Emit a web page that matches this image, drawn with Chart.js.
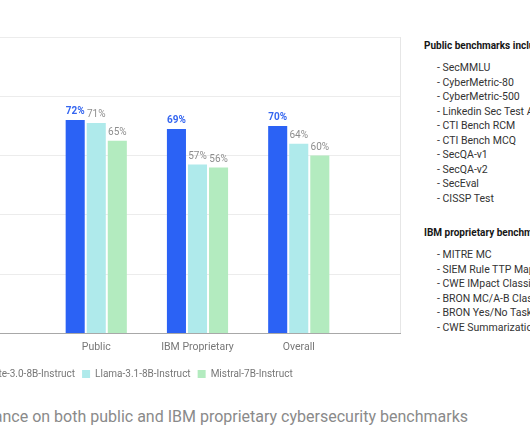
<!DOCTYPE html>
<html>
<head>
<meta charset="utf-8">
<script src="https://cdn.jsdelivr.net/npm/chart.js@4.4.1/dist/chart.umd.min.js"></script>
<style>
  html, body { margin: 0; padding: 0; width: 530px; height: 442px; overflow: hidden; background: #fff; font-family: Roboto, sans-serif; }
  #chartBox { position: absolute; left: -45px; top: 0; width: 453px; height: 389px; }
  #caption { position: absolute; right: 62px; top: 407px; font-size: 16px; color: #8a8a8a; white-space: nowrap; }
  .side { position: absolute; left: 424px; white-space: nowrap; font-size: 10px; color: #161616; }
  .side b { display: block; height: 22px; line-height: 14px; }
  .side ul { list-style: none; margin: 0; padding: 0 0 0 13px; line-height: 14.5px; font-size: 10.5px; color: #333; }
</style>
</head>
<body>
<div id="chartBox"><canvas id="benchChart"></canvas></div>
<div id="caption">Performance on both public and IBM proprietary cybersecurity benchmarks</div>
<div class="side" id="sidePublic" style="top:39px"></div>
<div class="side" id="sideIbm" style="top:226px"></div>
<script>
const categories = ['Public', 'IBM Proprietary', 'Overall'];
const seriesNames = ['Granite-3.0-8B-Instruct', 'Llama-3.1-8B-Instruct', 'Mistral-7B-Instruct'];
const graniteVals = [72, 69, 70];
const llamaVals = [71, 57, 64];
const mistralVals = [65, 56, 60];
const yTicks = [0, 20, 40, 60, 80, 100];
const publicBench = ['SecMMLU', 'CyberMetric-80', 'CyberMetric-500', 'Linkedin Sec Test Assessment', 'CTI Bench RCM',
    'CTI Bench MCQ', 'SecQA-v1', 'SecQA-v2', 'SecEval', 'CISSP Test'];
const ibmBench = ['MITRE MC', 'SIEM Rule TTP Mapping', 'CWE IMpact Classification', 'BRON MC/A-B Classification',
    'BRON Yes/No Tasks', 'CWE Summarization'];

function fillSide(id, title, items) {
    const el = document.getElementById(id);
    let html = '<b>' + title + '</b><ul>';
    items.forEach(t => { html += '<li>- ' + t + '</li>'; });
    el.innerHTML = html + '</ul>';
}
fillSide('sidePublic', 'Public benchmarks include:', publicBench);
fillSide('sideIbm', 'IBM proprietary benchmarks include:', ibmBench);

// empty slots on both ends keep the plot wider than the three groups
const pad = arr => [null, ...arr, null];
const labels = ['', ...categories, ''];

const valueLabels = {
    id: 'valueLabels',
    afterDatasetsDraw(chart) {
        const ctx = chart.ctx;
        chart.data.datasets.forEach((ds, i) => {
            chart.getDatasetMeta(i).data.forEach((bar, j) => {
                const v = ds.data[j];
                if (v == null) return;
                ctx.save();
                ctx.font = (i === 0 ? 'bold ' : '') + '10px Roboto';
                ctx.fillStyle = i === 0 ? '#3566f0' : '#8d8d8d';
                ctx.textAlign = 'center';
                ctx.textBaseline = 'bottom';
                ctx.fillText(v + '%', bar.x, bar.y - 3);
                ctx.restore();
            });
        });
    }
};

Chart.defaults.font.family = 'Roboto, sans-serif';

new Chart(document.getElementById('benchChart').getContext('2d'), {
    type: 'bar',
    data: {
        labels: labels,
        datasets: [
            { label: seriesNames[0], data: pad(graniteVals), backgroundColor: '#2b62f5' },
            { label: seriesNames[1], data: pad(llamaVals), backgroundColor: '#afeaeb' },
            { label: seriesNames[2], data: pad(mistralVals), backgroundColor: '#b3ebbf' }
        ]
    },
    options: {
        responsive: true,
        maintainAspectRatio: false,
        animation: false,
        categoryPercentage: 0.624,
        barPercentage: 0.905,
        layout: { padding: { top: 37, right: 5, left: 0, bottom: 0 } },
        scales: {
            x: {
                offset: false,
                grid: {
                    offset: false,
                    drawTicks: false,
                    color: c => c.index === labels.length - 1 ? '#e6e6e6' : 'transparent'
                },
                border: { color: '#a8a8a8' },
                ticks: { color: '#777', font: { size: 10.5 }, padding: 8, autoSkip: false, maxRotation: 0 }
            },
            y: {
                min: yTicks[0],
                max: yTicks[yTicks.length - 1],
                afterFit: s => { s.width = 40; },
                afterBuildTicks: s => { s.ticks = yTicks.map(v => ({ value: v })); },
                grid: { color: '#ececec', drawTicks: false },
                border: { display: false },
                ticks: { color: '#777', callback: v => v + '%' }
            }
        },
        plugins: {
            legend: {
                position: 'bottom',
                align: 'start',
                labels: { boxWidth: 8, boxHeight: 8, color: '#777', font: { size: 10 }, padding: 7 }
            },
            tooltip: { enabled: false }
        }
    },
    plugins: [valueLabels]
});
</script>
</body>
</html>
